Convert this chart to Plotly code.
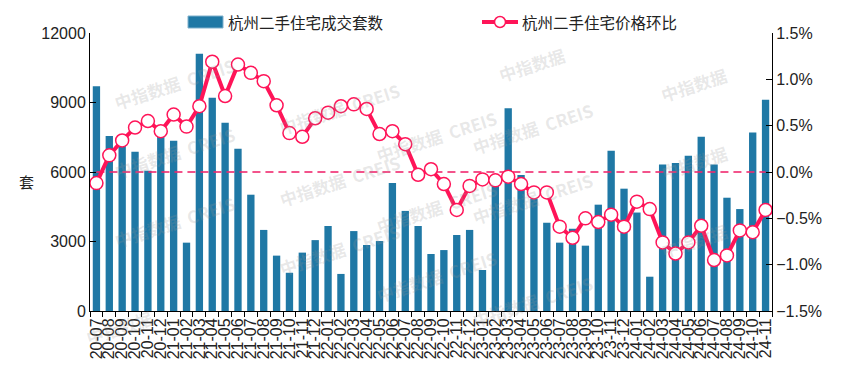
import plotly.graph_objects as go

categories = ["20-07", "20-08", "20-09", "20-10", "20-11", "20-12",
              "21-01", "21-02", "21-03", "21-04", "21-05", "21-06", "21-07", "21-08", "21-09", "21-10", "21-11", "21-12",
              "22-01", "22-02", "22-03", "22-04", "22-05", "22-06", "22-07", "22-08", "22-09", "22-10", "22-11", "22-12",
              "23-01", "23-02", "23-03", "23-04", "23-05", "23-06", "23-07", "23-08", "23-09", "23-10", "23-11", "23-12",
              "24-01", "24-02", "24-03", "24-04", "24-05", "24-06", "24-07", "24-08", "24-09", "24-10", "24-11"]

deals = [9700, 7550, 7200, 6870, 6050, 7550, 7350, 2950, 11100, 9200,
         8130, 7000, 5020, 3500, 2390, 1650, 2520, 3060, 3670, 1600,
         3450, 2850, 3020, 5520, 4320, 3670, 2460, 2630, 3280, 3500,
         1770, 5600, 8750, 5870, 4850, 3810, 2950, 3550, 2820, 4590,
         6920, 5280, 4250, 1480, 6320, 6390, 6700, 7520, 6320, 4890,
         4400, 7700, 9120]

price_mom = [-0.12, 0.18, 0.34, 0.48, 0.55, 0.44, 0.62, 0.49, 0.71, 1.19,
             0.82, 1.16, 1.07, 0.98, 0.72, 0.42, 0.38, 0.58, 0.64, 0.71,
             0.73, 0.68, 0.41, 0.44, 0.30, -0.03, 0.03, -0.13, -0.41, -0.15,
             -0.08, -0.09, -0.05, -0.13, -0.22, -0.22, -0.59, -0.71, -0.50, -0.54,
             -0.46, -0.59, -0.32, -0.40, -0.76, -0.88, -0.76, -0.58, -0.95, -0.90,
             -0.63, -0.65, -0.41]

bar_name = "杭州二手住宅成交套数"
line_name = "杭州二手住宅价格环比"

BAR_COLOR = "#1f78a5"
LINE_COLOR = "#ff1458"
DASH_COLOR = "rgba(240,40,110,0.8)"
FONT = "Liberation Sans, Arial, Noto Sans CJK SC, sans-serif"
CJK_FONT = "Noto Sans CJK SC, Microsoft YaHei, sans-serif"

# page offset from default body margin
OFF = 8
PAGE_W, PAGE_H = 845, 372
PLOT_L, PLOT_R, PLOT_T, PLOT_B = 90, 772, 33, 311  # plot area in page pixels
W, H = PAGE_W - OFF, PAGE_H - OFF
L, T = PLOT_L - OFF, PLOT_T - OFF
R, B = PAGE_W - PLOT_R, PAGE_H - PLOT_B
PW, PH = PLOT_R - PLOT_L, PLOT_B - PLOT_T


def px(x):
    return (x - PLOT_L) / PW


def py(y):
    return (PLOT_B - y) / PH


fig = go.Figure()
fig.add_trace(go.Bar(x=categories, y=deals, marker=dict(color=BAR_COLOR, line=dict(width=0)),
                     name=bar_name, showlegend=False, yaxis="y"))
fig.add_trace(go.Scatter(x=[categories[0], categories[-1]], y=[0, 0], mode="lines",
                         line=dict(color=DASH_COLOR, width=2, dash="8px,5px"),
                         showlegend=False, yaxis="y2", hoverinfo="skip"))
fig.add_trace(go.Scatter(x=categories, y=price_mom, mode="lines+markers", name=line_name,
                         line=dict(color=LINE_COLOR, width=4),
                         marker=dict(size=13, color="white", line=dict(color=LINE_COLOR, width=1.5)),
                         showlegend=False, yaxis="y2"))

# watermarks
wm_full = [(109, 50), (274, 75), (436, 103), (598, 128),
           (109, 152), (274, 180), (436, 207), (598, 232),
           (109, 255), (274, 283), (436, 310), (598, 335)]
wm_short = [(571, 40), (733, 60), (733, 162), (733, 265), (80, 352)]
annotations = []
for (x, y) in wm_full:
    annotations.append(dict(x=px(x), y=py(y), xref="paper", yref="paper", text="<b>中指数据  CREIS</b>",
                            showarrow=False, textangle=-18,
                            font=dict(size=17, color="rgba(150,150,150,0.22)", family=CJK_FONT)))
for (x, y) in wm_short:
    annotations.append(dict(x=px(x), y=py(y), xref="paper", yref="paper", text="<b>中指数据</b>",
                            showarrow=False, textangle=-18,
                            font=dict(size=17, color="rgba(150,150,150,0.22)", family=CJK_FONT)))

# custom legend
annotations.append(dict(x=px(226), y=py(22), xref="paper", yref="paper", xanchor="left", yanchor="middle",
                        text=bar_name, showarrow=False, font=dict(size=15.5, color="#222", family=CJK_FONT)))
annotations.append(dict(x=px(520), y=py(22), xref="paper", yref="paper", xanchor="left", yanchor="middle",
                        text=line_name, showarrow=False, font=dict(size=15.5, color="#222", family=CJK_FONT)))
# y title
annotations.append(dict(x=px(26), y=py(181), xref="paper", yref="paper", xanchor="center", yanchor="middle",
                        text="套", showarrow=False, font=dict(size=15, color="#222", family=CJK_FONT)))

shapes = [
    dict(type="rect", xref="paper", yref="paper", x0=px(188), x1=px(223), y0=py(28), y1=py(16),
         fillcolor=BAR_COLOR, line=dict(color="#7fb0cc", width=1)),
    dict(type="line", xref="paper", yref="paper", x0=px(482), x1=px(518), y0=py(22), y1=py(22),
         line=dict(color=LINE_COLOR, width=4)),
    dict(type="circle", xref="paper", yref="paper", xsizemode="pixel", ysizemode="pixel",
         xanchor=px(500), yanchor=py(22), x0=-5.5, x1=5.5, y0=-5.5, y1=5.5,
         fillcolor="white", line=dict(color=LINE_COLOR, width=1.5)),
]

fig.update_layout(
    width=W, height=H,
    margin=dict(l=L, r=R, t=T, b=B, pad=0, autoexpand=False),
    paper_bgcolor="white", plot_bgcolor="white",
    font=dict(family=FONT, size=16, color="#222"),
    bargap=0.43,
    showlegend=False,
    annotations=annotations,
    shapes=shapes,
    xaxis=dict(type="category", range=[-0.5, len(categories) - 0.5], tickangle=-90,
               tickmode="array", tickvals=categories, ticktext=categories,
               ticks="outside", tickson="boundaries", ticklen=5, tickcolor="black",
               showline=True, linecolor="black", linewidth=1, showgrid=False,
               tickfont=dict(size=16, family=FONT, color="#222")),
    yaxis=dict(range=[0, 12000], dtick=3000, tickformat="d", ticks="inside", ticklen=6, tickcolor="black",
               showline=True, linecolor="black", linewidth=1, showgrid=False, zeroline=False,
               tickfont=dict(size=16, family=FONT, color="#222")),
    yaxis2=dict(range=[-1.5, 1.5], dtick=0.5, tickformat=".1f", ticksuffix="%",
                overlaying="y", side="right", ticks="inside", ticklen=6, tickcolor="black",
                showline=True, linecolor="black", linewidth=1, showgrid=False, zeroline=False,
                tickfont=dict(size=16, family=FONT, color="#222")),
)

fig.write_html("out.html")
